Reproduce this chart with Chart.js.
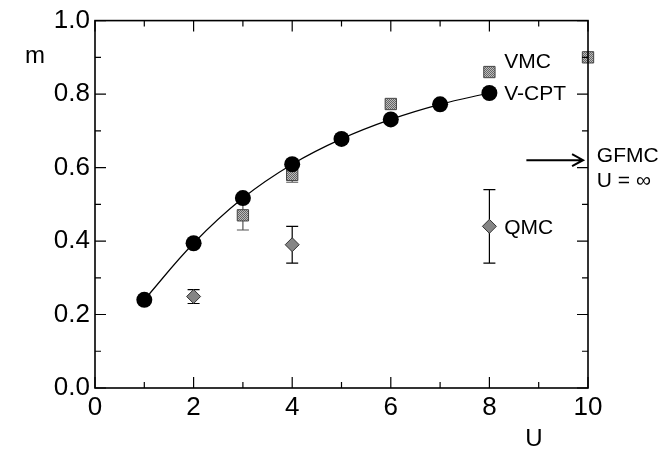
<!DOCTYPE html>
<html>
<head>
<meta charset="utf-8">
<script src="https://cdn.jsdelivr.net/npm/chart.js@4/dist/chart.umd.min.js"></script>
<style>
  body { margin: 0; background: #fff; }
  canvas { display: block; }
</style>
</head>
<body>
<canvas id="mChart" width="660" height="453"></canvas>
<script>
// V-CPT curve
const uVcpt = [1, 2, 3, 4, 5, 6, 7, 8];
const mVcpt = [0.240, 0.394, 0.517, 0.609, 0.678, 0.731, 0.772, 0.803];
// VMC squares with error bars
const uVmc = [3, 4, 6, 8, 10];
const mVmc = [0.470, 0.580, 0.773, 0.860, 0.900];
const errVmc = [0.04, 0.02, 0, 0, 0];
// QMC diamonds with error bars
const uQmc = [2, 4, 8];
const mQmc = [0.249, 0.390, 0.440];
const errQmc = [0.019, 0.050, 0.100];
// GFMC (U = infinity) arrow level
const gfmcM = 0.62;

const xTicks = [0, 2, 4, 6, 8, 10];
const xMinor = [1, 3, 5, 7, 9];
const yTicks = [0, 0.2, 0.4, 0.6, 0.8, 1.0];
const yMinor = [0.1, 0.3, 0.5, 0.7, 0.9];

const FONT = '"Liberation Sans", Arial, sans-serif';

function toPoints(xs, ys) {
    return xs.map((x, i) => ({ x: x, y: ys[i] }));
}

// gray hatch texture for the VMC squares
function makePattern() {
    const c = document.createElement('canvas');
    c.width = 2; c.height = 2;
    const g = c.getContext('2d');
    g.fillStyle = '#bdbdbd';
    g.fillRect(0, 0, 2, 2);
    g.fillStyle = '#646464';
    g.fillRect(0, 0, 1, 1);
    g.fillRect(1, 1, 1, 1);
    return g.createPattern(c, 'repeat');
}

const errorBars = {
    id: 'errorBars',
    beforeDatasetsDraw(chart) {
        const ctx = chart.ctx;
        const xs = chart.scales.x, ys = chart.scales.y;
        function draw(us, ms, errs, color) {
            ctx.save();
            ctx.strokeStyle = color;
            ctx.lineWidth = 1.2;
            us.forEach((u, i) => {
                if (!errs[i]) return;
                const px = xs.getPixelForValue(u);
                const top = ys.getPixelForValue(ms[i] + errs[i]);
                const bot = ys.getPixelForValue(ms[i] - errs[i]);
                ctx.beginPath();
                ctx.moveTo(px, top); ctx.lineTo(px, bot);
                ctx.moveTo(px - 6, top); ctx.lineTo(px + 6, top);
                ctx.moveTo(px - 6, bot); ctx.lineTo(px + 6, bot);
                ctx.stroke();
            });
            ctx.restore();
        }
        draw(uVmc, mVmc, errVmc, '#555');
        draw(uQmc, mQmc, errQmc, '#000');
    }
};

const frame = {
    id: 'frame',
    afterDraw(chart) {
        const ctx = chart.ctx;
        const a = chart.chartArea;
        const xs = chart.scales.x, ys = chart.scales.y;
        ctx.save();
        ctx.strokeStyle = '#000';
        ctx.lineWidth = 1.2;
        ctx.beginPath();
        xTicks.concat(xMinor).forEach(v => {
            const len = xTicks.includes(v) ? 11 : 6;
            const px = xs.getPixelForValue(v);
            ctx.moveTo(px, a.bottom); ctx.lineTo(px, a.bottom - len);
            ctx.moveTo(px, a.top); ctx.lineTo(px, a.top + len);
        });
        yTicks.concat(yMinor).forEach(v => {
            const len = yTicks.includes(v) ? 11 : 6;
            const py = ys.getPixelForValue(v);
            ctx.moveTo(a.left, py); ctx.lineTo(a.left + len, py);
            ctx.moveTo(a.right, py); ctx.lineTo(a.right - len, py);
        });
        ctx.stroke();
        ctx.lineWidth = 1.6;
        ctx.strokeRect(a.left, a.top, a.right - a.left, a.bottom - a.top);

        // GFMC arrow
        const ay = ys.getPixelForValue(gfmcM);
        const x0 = xs.getPixelForValue(8.75), x1 = xs.getPixelForValue(9.9);
        ctx.lineWidth = 2;
        ctx.beginPath();
        ctx.moveTo(x0, ay); ctx.lineTo(x1, ay);
        ctx.moveTo(x1 - 11, ay - 6); ctx.lineTo(x1, ay); ctx.lineTo(x1 - 11, ay + 6);
        ctx.stroke();

        // labels
        ctx.fillStyle = '#000';
        ctx.textBaseline = 'middle';
        ctx.textAlign = 'left';
        ctx.font = '21px ' + FONT;
        const notes = [
            ['VMC', 8.3, 0.887],
            ['V-CPT', 8.3, 0.800],
            ['QMC', 8.3, 0.436],
            ['GFMC', 10.18, 0.632],
            ['U = \u221e', 10.18, 0.562]
        ];
        notes.forEach(n => {
            ctx.fillText(n[0], xs.getPixelForValue(n[1]), ys.getPixelForValue(n[2]));
        });
        ctx.textAlign = 'center';
        ctx.font = '24px ' + FONT;
        ctx.fillText('m', 35, 56);
        ctx.fillText('U', 534, 439);
        ctx.restore();
    }
};

const ctx = document.getElementById('mChart').getContext('2d');
new Chart(ctx, {
    type: 'scatter',
    data: {
        datasets: [{
            label: 'V-CPT',
            data: toPoints(uVcpt, mVcpt),
            showLine: true,
            tension: 0.4,
            borderColor: '#000',
            borderWidth: 1.2,
            backgroundColor: '#000',
            pointRadius: 8,
            pointBorderWidth: 0,
            clip: false
        }, {
            label: 'VMC',
            data: toPoints(uVmc, mVmc),
            pointStyle: 'rect',
            pointRadius: 8,
            backgroundColor: makePattern(),
            borderColor: '#444',
            pointBorderWidth: 1,
            clip: false
        }, {
            label: 'QMC',
            data: toPoints(uQmc, mQmc),
            pointStyle: 'rectRot',
            pointRadius: 7,
            backgroundColor: '#858585',
            borderColor: '#333',
            pointBorderWidth: 1,
            clip: false
        }]
    },
    options: {
        responsive: false,
        animation: false,
        devicePixelRatio: 1,
        layout: { padding: { top: 18, right: 72, left: 0, bottom: 0 } },
        plugins: { legend: { display: false }, tooltip: { enabled: false } },
        scales: {
            x: {
                type: 'linear',
                min: 0, max: 10,
                afterFit: s => { s.height = 65; },
                afterBuildTicks: s => { s.ticks = xTicks.map(v => ({ value: v })); },
                ticks: { color: '#000', font: { family: FONT, size: 26 }, padding: 4, maxRotation: 0 },
                grid: { display: false, drawTicks: false },
                border: { display: false }
            },
            y: {
                min: 0, max: 1,
                afterFit: s => { s.width = 95; },
                afterBuildTicks: s => { s.ticks = yTicks.map(v => ({ value: v })); },
                ticks: { color: '#000', font: { family: FONT, size: 26 }, padding: 5,
                         callback: v => v.toFixed(1) },
                grid: { display: false, drawTicks: false },
                border: { display: false }
            }
        }
    },
    plugins: [errorBars, frame]
});
</script>
</body>
</html>
